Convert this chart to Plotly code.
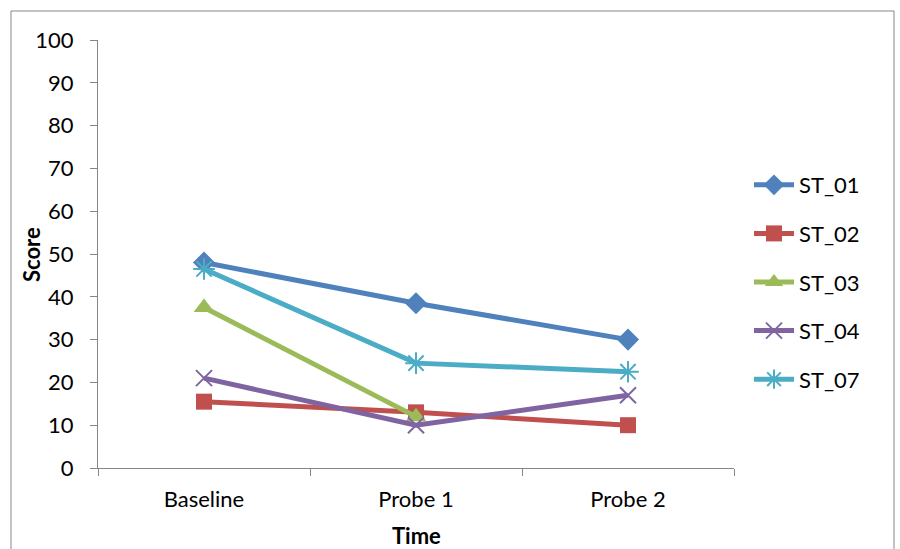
import plotly.graph_objects as go

# Assessment points and scores per student
times = ["Baseline", "Probe 1", "Probe 2"]
st_01 = [48, 38.5, 30]
st_02 = [15.5, 13, 10]
st_03 = [37.5, 12, None]
st_04 = [21, 10, 17]
st_07 = [46.5, 24.5, 22.5]

series = [
    ("ST_01", st_01, "#4F81BD", "diamond", 17, 0),
    ("ST_02", st_02, "#C0504D", "square", 16, 0),
    ("ST_03", st_03, "#9BBB59", "triangle-up", 18, 0),
    ("ST_04", st_04, "#8064A2", "x-thin-open", 16, 2),
    ("ST_07", st_07, "#4BACC6", "asterisk-open", 18, 2),
]

FONT = "Lato, Carlito, Calibri, sans-serif"

# plot area geometry in pixels
L, R, T, B = 98, 166, 40, 81
W, H = 900, 549
PW, PH = W - L - R, H - T - B


def px_x(p):
    return (p - L) / PW


def px_y(p):
    return (H - B - p) / PH


fig = go.Figure()
for i, (name, vals, color, symbol, size, mlw) in enumerate(series):
    fig.add_trace(go.Scatter(
        x=times, y=vals, name=name, mode="lines+markers",
        legendgroup=name,
        line=dict(color=color, width=5),
        marker=dict(symbol=symbol, size=size, color=color,
                    line=dict(color=color, width=mlw)),
        connectgaps=False,
    ))

axis_color = "#868686"
fig.update_layout(
    width=W, height=H,
    margin=dict(l=L, r=R, t=T, b=B, autoexpand=False),
    paper_bgcolor="white", plot_bgcolor="white",
    font=dict(family=FONT, size=22, color="black"),
    showlegend=True,
    legend=dict(x=px_x(749), y=px_y(282), xanchor="left", yanchor="middle",
                traceorder="grouped", tracegroupgap=17,
                font=dict(size=22), itemwidth=40,
                bgcolor="rgba(0,0,0,0)"),
    xaxis=dict(
        range=[-0.5, 2.5], showgrid=False, zeroline=False,
        showline=True, linecolor=axis_color, linewidth=1,
        ticks="outside", tickson="boundaries", ticklen=7,
        tickcolor=axis_color, ticklabelstandoff=12, automargin=False,
    ),
    yaxis=dict(
        range=[0, 100], dtick=10, showgrid=False, zeroline=False,
        showline=True, linecolor=axis_color, linewidth=1,
        ticks="outside", ticklen=7, tickcolor=axis_color,
        ticklabelstandoff=12, automargin=False,
    ),
    annotations=[
        dict(text="<b>Time</b>", xref="paper", yref="paper",
             x=0.5, y=px_y(535), xanchor="center", yanchor="middle",
             showarrow=False, font=dict(size=22)),
        dict(text="<b>Score</b>", xref="paper", yref="paper",
             x=px_x(32), y=px_y(255), xanchor="center", yanchor="middle",
             textangle=-90, showarrow=False, font=dict(size=22)),
    ],
    shapes=[dict(
        type="rect", xref="paper", yref="paper",
        x0=px_x(11), x1=px_x(894),
        y0=px_y(570), y1=px_y(11),
        line=dict(color=axis_color, width=1), layer="below",
    )],
)

fig.write_html("out.html")
